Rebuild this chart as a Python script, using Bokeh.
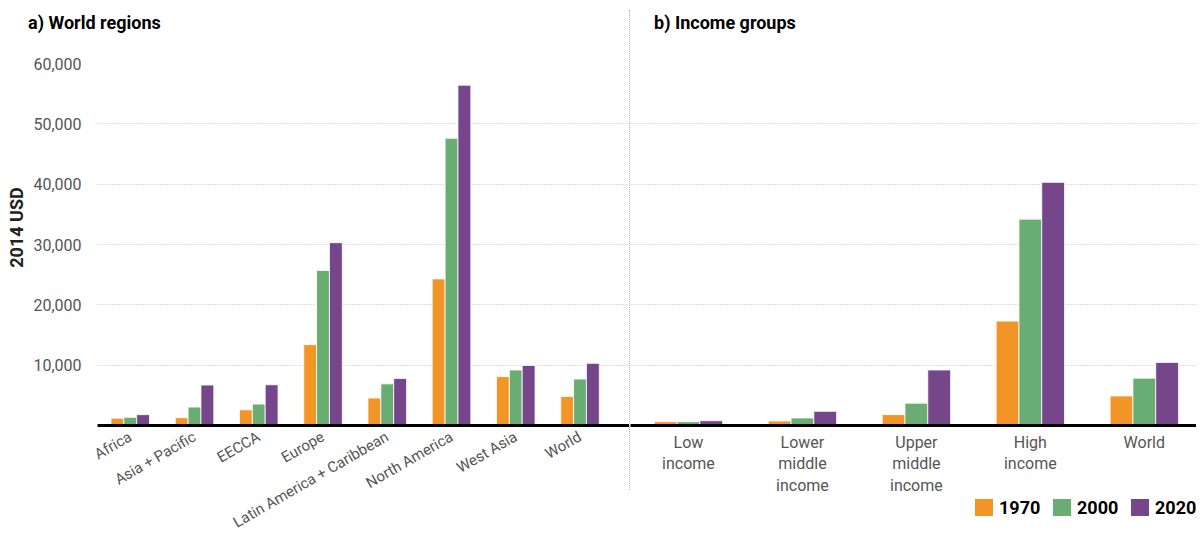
import math
import numpy as np
from bokeh.plotting import figure
from bokeh.models import Range1d, FixedTicker, NumeralTickFormatter, Div
from bokeh.layouts import row
from bokeh.embed import file_html
from bokeh.resources import INLINE

# ---------------- data ----------------
years = ["1970", "2000", "2020"]
colors = ["#F39426", "#6AAD73", "#76468A"]

panel_titles = ["a) World regions", "b) Income groups"]
y_axis_title = "2014 USD"

regions = ["Africa", "Asia + Pacific", "EECCA", "Europe",
           "Latin America + Caribbean", "North America", "West Asia", "World"]
regions_1970 = [1200, 1300, 2600, 13400, 4550, 24300, 8100, 4800]
regions_2000 = [1350, 3050, 3550, 25700, 6900, 47600, 9200, 7700]
regions_2020 = [1800, 6700, 6750, 30300, 7800, 56400, 9950, 10300]

income_groups = ["Low\nincome", "Lower\nmiddle\nincome", "Upper\nmiddle\nincome",
                 "High\nincome", "World"]
income_1970 = [630, 750, 1800, 17300, 4900]
income_2000 = [630, 1250, 3700, 34200, 7850]
income_2020 = [800, 2350, 9200, 40300, 10450]

y_ticks = [10000, 20000, 30000, 40000, 50000, 60000]

# ---------------- style ----------------
FONT = "Roboto"
LABEL_COLOR = "#555555"
GRID_COLOR = "#bdbdbd"
H = 542
TOP = 63
BOTTOM = 115          # frame bottom at y = 427
BAR_W = 0.2
offsets = [-BAR_W, 0.0, BAR_W]


def style_common(p):
    p.outline_line_color = None
    p.xgrid.visible = False
    p.ygrid.ticker = FixedTicker(ticks=y_ticks)
    p.ygrid.grid_line_color = GRID_COLOR
    p.ygrid.grid_line_dash = "1 2"
    p.ygrid.grid_line_width = 1
    p.xaxis.axis_line_color = "black"
    p.xaxis.axis_line_width = 3
    p.xaxis.major_tick_line_color = None
    p.xaxis.minor_tick_line_color = None
    p.xaxis.major_label_text_font = FONT
    p.xaxis.major_label_text_font_size = "16px"
    p.xaxis.major_label_text_color = LABEL_COLOR


# ---------------- left panel ----------------
p1 = figure(width=629, height=H, x_range=Range1d(-0.01, 8.27), y_range=Range1d(0, 60000),
            output_backend="svg", toolbar_location=None, title=None,
            min_border_left=97, min_border_right=0, min_border_top=TOP,
            min_border_bottom=BOTTOM)
style_common(p1)

xs1 = np.arange(len(regions)) + 0.5
for vals, col, off in zip([regions_1970, regions_2000, regions_2020], colors, offsets):
    p1.vbar(x=xs1 + off, top=vals, width=BAR_W, fill_color=col,
            line_color="white", line_width=0.8)

p1.xaxis.ticker = FixedTicker(ticks=list(xs1))
p1.xaxis.major_label_overrides = {float(x): lab for x, lab in zip(xs1, regions)}
p1.xaxis.major_label_orientation = math.pi / 6
p1.xaxis.major_label_text_font_size = "15px"
p1.xaxis.major_label_standoff = 4

p1.yaxis.ticker = FixedTicker(ticks=y_ticks)
p1.yaxis.formatter = NumeralTickFormatter(format="0,0")
p1.yaxis.axis_line_color = None
p1.yaxis.major_tick_line_color = None
p1.yaxis.minor_tick_line_color = None
p1.yaxis.major_tick_out = 0
p1.yaxis.minor_tick_out = 0
p1.yaxis.major_label_standoff = 16
p1.yaxis.major_label_text_font = FONT
p1.yaxis.major_label_text_font_size = "16px"
p1.yaxis.major_label_text_color = LABEL_COLOR

# ---------------- right panel ----------------
p2 = figure(width=566, height=H, x_range=Range1d(-0.0088, 4.958), y_range=Range1d(0, 60000),
            output_backend="svg", toolbar_location=None, y_axis_location=None, title=None,
            min_border_left=0, min_border_right=0, min_border_top=TOP,
            min_border_bottom=BOTTOM)
style_common(p2)

xs2 = np.arange(len(income_groups)) + 0.5
for vals, col, off in zip([income_1970, income_2000, income_2020], colors, offsets):
    p2.vbar(x=xs2 + off, top=vals, width=BAR_W, fill_color=col,
            line_color="white", line_width=0.8)

p2.xaxis.ticker = FixedTicker(ticks=list(xs2))
p2.xaxis.major_label_overrides = {float(x): lab for x, lab in zip(xs2, income_groups)}
p2.xaxis.major_label_standoff = 1
p2.xaxis.major_label_text_line_height = 1.15

# ------- separator, carrying panel titles, y-axis title and legend (HTML overlay) -------
title_css = ("position:absolute;white-space:nowrap;font-family:Roboto,sans-serif;"
             "font-weight:bold;font-size:18px;line-height:21px;color:#000;")
parts = []
for t, left in zip(panel_titles, [-602, 24]):
    parts.append(f'<div style="{title_css}left:{left}px;top:2px;">{t}</div>')
parts.append(f'<div style="{title_css}color:#222;left:-664px;top:207px;width:100px;'
             f'text-align:center;transform:rotate(-90deg);transform-origin:50% 50%;">'
             f'{y_axis_title}</div>')
for i, (yr, col) in enumerate(zip(years, colors)):
    x0 = 345 + 78 * i
    parts.append(f'<div style="position:absolute;left:{x0}px;top:489px;width:18px;'
                 f'height:17px;background:{col};"></div>')
    parts.append(f'<div style="{title_css}left:{x0 + 24}px;top:487px;">{yr}</div>')

sep = Div(text="".join(parts), width=1, height=480, margin=(10, 0, 0, 0),
          styles={"border-left": "1px dotted #b3b3b3", "position": "relative",
                  "overflow": "visible", "z-index": "10"})

layout = row(p1, sep, p2)
open("out.html", "w").write(file_html(layout, INLINE))
